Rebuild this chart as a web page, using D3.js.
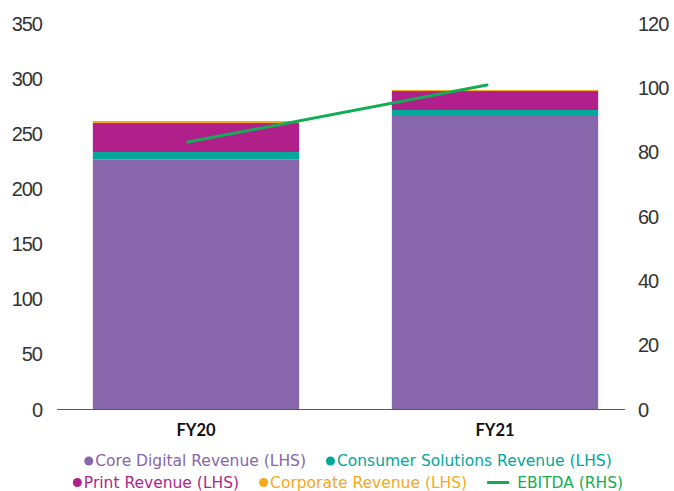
<!DOCTYPE html>
<html lang="en">
<head>
<meta charset="utf-8">
<title>Revenue and EBITDA</title>
<script src="https://d3js.org/d3.v7.min.js"></script>
<style>
  body { margin: 0; background: #fff; }
  .axis text { font-family: "Liberation Sans", Arial, sans-serif; font-size: 20px; letter-spacing: -1px; fill: #333; }
  .cat text { font-family: Lato, "Noto Sans", sans-serif; font-weight: bold; font-size: 16.5px; fill: #111; }
  .legend text { font-family: "DejaVu Sans", "Noto Sans", sans-serif; font-size: 15.5px; }
</style>
</head>
<body>
<script>
// data
var years = ["FY20", "FY21"];
var coreDigital = [226.4, 265.7];
var consumerSolutions = [6.6, 5.4];
var printRevenue = [26.3, 17.2];
var corporate = [1.8, 0.9];
var ebitda = [83.0, 100.7];
var leftTicks = [0, 50, 100, 150, 200, 250, 300, 350];
var rightTicks = [0, 20, 40, 60, 80, 100, 120];

var series = [
  {name: "Core Digital Revenue (LHS)", values: coreDigital, color: "#8766ac"},
  {name: "Consumer Solutions Revenue (LHS)", values: consumerSolutions, color: "#00a89a"},
  {name: "Print Revenue (LHS)", values: printRevenue, color: "#b01f8a"},
  {name: "Corporate Revenue (LHS)", values: corporate, color: "#f7a81b"}
];
var lineColor = "#13ad55";

var width = 674, height = 491;
var baseY = 409, topY = 23;

var svg = d3.select("body").append("svg")
  .attr("width", width)
  .attr("height", height);

var x = d3.scaleBand()
  .domain(years)
  .range([46.5, 644.5])
  .paddingInner(0.31)
  .paddingOuter(0.155);

var yLeft = d3.scaleLinear().domain([0, 350]).range([baseY, topY]);
var yRight = d3.scaleLinear().domain([0, 120]).range([baseY, topY]);

// stacked table
var table = years.map(function(y, i) {
  var row = {year: y};
  series.forEach(function(s) { row[s.name] = s.values[i]; });
  return row;
});
var stack = d3.stack().keys(series.map(function(s) { return s.name; }));
var layers = stack(table);

svg.append("g")
  .selectAll("g")
  .data(layers)
  .enter()
  .append("g")
  .attr("fill", function(d, i) { return series[i].color; })
  .selectAll("rect")
  .data(function(d) { return d; })
  .enter()
  .append("rect")
  .attr("x", function(d) { return x(d.data.year); })
  .attr("width", x.bandwidth())
  .attr("y", function(d) { return yLeft(d[1]); })
  .attr("height", function(d) { return yLeft(d[0]) - yLeft(d[1]); });

// baseline
svg.append("line")
  .attr("x1", 57).attr("x2", 625)
  .attr("y1", baseY + 0.5).attr("y2", baseY + 0.5)
  .attr("stroke", "#595959")
  .attr("stroke-width", 1);

// left axis
var gl = svg.append("g")
  .attr("class", "axis")
  .attr("transform", "translate(42,0)")
  .call(d3.axisLeft(yLeft).tickValues(leftTicks).tickSize(0).tickPadding(0));
gl.select(".domain").remove();
gl.selectAll("text").attr("dy", "0.35em");

// right axis
var gr = svg.append("g")
  .attr("class", "axis")
  .attr("transform", "translate(638,0)")
  .call(d3.axisRight(yRight).tickValues(rightTicks).tickSize(0).tickPadding(0));
gr.select(".domain").remove();
gr.selectAll("text").attr("dy", "0.35em");

// category labels
svg.append("g")
  .attr("class", "cat")
  .selectAll("text")
  .data(years)
  .enter()
  .append("text")
  .attr("x", function(d) { return x(d) + x.bandwidth() / 2; })
  .attr("y", 436)
  .attr("text-anchor", "middle")
  .text(function(d) { return d; });

// EBITDA line
var line = d3.line()
  .x(function(d, i) { return x(years[i]) + x.bandwidth() / 2 - 8; })
  .y(function(d) { return yRight(d); });

svg.append("path")
  .datum(ebitda)
  .attr("d", line)
  .attr("fill", "none")
  .attr("stroke", lineColor)
  .attr("stroke-width", 3)
  .attr("stroke-linecap", "round");

// legend
var legendRows = [
  [series[0], series[1]],
  [series[2], series[3], {name: "EBITDA (RHS)", color: lineColor, line: true}]
];
var legendY = [461, 482.5];
var legend = svg.append("g").attr("class", "legend");

legendRows.forEach(function(row, r) {
  var g = legend.append("g");
  var cx = 0;
  row.forEach(function(item, k) {
    if (k > 0) cx += 20;
    if (item.line) {
      g.append("line")
        .attr("x1", cx).attr("x2", cx + 22)
        .attr("y1", legendY[r]).attr("y2", legendY[r])
        .attr("stroke", item.color)
        .attr("stroke-width", 3);
      cx += 30;
    } else {
      g.append("circle")
        .attr("cx", cx + 4.5)
        .attr("cy", legendY[r])
        .attr("r", 4.5)
        .attr("fill", item.color);
      cx += 11;
    }
    var t = g.append("text")
      .attr("x", cx)
      .attr("y", legendY[r])
      .attr("dy", "0.35em")
      .attr("fill", item.color)
      .text(item.name);
    cx += t.node().getComputedTextLength();
  });
  g.attr("transform", "translate(" + (348 - cx / 2) + ",0)");
});
</script>
</body>
</html>
